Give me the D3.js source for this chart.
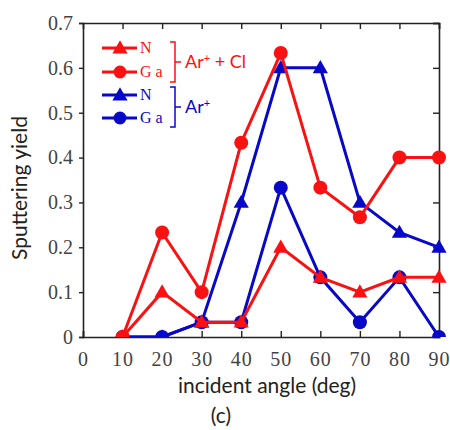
<!DOCTYPE html>
<html>
<head>
<meta charset="utf-8">
<script src="https://cdn.jsdelivr.net/npm/d3@7"></script>
<style>
  body { margin: 0; background: #fff; }
</style>
</head>
<body>
<svg id="chart"></svg>
<script>
const angles = [10, 20, 30, 40, 50, 60, 70, 80, 90];
const clN  = [0, 0.1, 0.033, 0.033, 0.2, 0.133, 0.1, 0.133, 0.133];
const clGa = [0, 0.233, 0.1, 0.433, 0.633, 0.333, 0.267, 0.4, 0.4];
const arN  = [0, 0, 0.033, 0.3, 0.6, 0.6, 0.3, 0.233, 0.2];
const arGa = [0, 0, 0.033, 0.033, 0.333, 0.133, 0.033, 0.133, 0];
const xTicks = [0, 10, 20, 30, 40, 50, 60, 70, 80, 90];
const yTicks = [0, 0.1, 0.2, 0.3, 0.4, 0.5, 0.6, 0.7];

const red = '#fa1212', blue = '#0808c8';
const serif = '"Liberation Serif", "DejaVu Serif", serif';
const sans = 'Lato, "Open Sans", sans-serif';

const series = [
    { name: 'N',  vals: arN,  color: blue, shape: 'tri' },
    { name: 'Ga', vals: arGa, color: blue, shape: 'circ' },
    { name: 'N',  vals: clN,  color: red,  shape: 'tri' },
    { name: 'Ga', vals: clGa, color: red,  shape: 'circ' }
];

const width = 450, height = 430;
const margin = { top: 23, right: 11, bottom: 93, left: 83 };
const w = width - margin.left - margin.right;
const h = height - margin.top - margin.bottom;

const svg = d3.select('#chart').attr('width', width).attr('height', height);
const chart = svg.append('g').attr('transform', `translate(${margin.left},${margin.top})`);

const x = d3.scaleLinear().domain([0, 90]).range([0, w]);
const y = d3.scaleLinear().domain([0, 0.7]).range([h, 0]);

svg.append('defs').append('clipPath').attr('id', 'clip')
    .append('rect').attr('x', -10).attr('y', -10).attr('width', w + 20).attr('height', h + 10);

// axes
const fmtY = d => d === 0 ? '0' : d3.format('.1f')(d);
chart.append('g').attr('transform', `translate(0,${h})`)
    .call(d3.axisBottom(x).tickValues(xTicks).tickSize(-6).tickPadding(15))
    .call(g => g.selectAll('.tick text').attr('dy', '0.71em').style('letter-spacing', '1px'));
chart.append('g')
    .call(d3.axisLeft(y).tickValues(yTicks).tickSize(4).tickFormat(fmtY).tickPadding(6));
chart.append('g')
    .call(d3.axisTop(x).tickValues(xTicks.slice(1)).tickSize(-6).tickFormat(''));
chart.append('g').attr('transform', `translate(${w},0)`)
    .call(d3.axisRight(y).tickValues(yTicks.slice(1)).tickSize(-6).tickFormat(''));
chart.selectAll('.domain').attr('stroke', '#222').attr('stroke-width', 1.6);
chart.selectAll('.tick line').attr('stroke', '#222').attr('stroke-width', 1.4);
chart.selectAll('.tick text')
    .style('font-family', serif).style('font-size', '20px').style('fill', '#444');

// series
const plot = chart.append('g').attr('clip-path', 'url(#clip)');
const line = d3.line().x((d, i) => x(angles[i])).y(d => y(d));
const tri = d3.symbol().type(d3.symbolTriangle).size(100);

series.forEach(s => {
    plot.append('path').datum(s.vals)
        .attr('d', line).attr('fill', 'none')
        .attr('stroke', s.color).attr('stroke-width', 3);
    const pts = plot.append('g').selectAll('.pt').data(s.vals).join('g')
        .attr('transform', (d, i) => `translate(${x(angles[i])},${y(d)})`);
    if (s.shape === 'tri') {
        pts.append('path').attr('d', tri).attr('transform', 'translate(0,1)').attr('fill', s.color);
    } else {
        pts.append('circle').attr('r', 7).attr('fill', s.color);
    }
});

// legend
const legend = svg.append('g');
const legItems = [
    { label: 'N',  color: red,  shape: 'tri',  y: 48 },
    { label: 'G a', color: red,  shape: 'circ', y: 72 },
    { label: 'N',  color: blue, shape: 'tri',  y: 95 },
    { label: 'G a', color: blue, shape: 'circ', y: 118 }
];
legItems.forEach(it => {
    legend.append('line').attr('x1', 102).attr('x2', 137).attr('y1', it.y).attr('y2', it.y)
        .attr('stroke', it.color).attr('stroke-width', 3);
    if (it.shape === 'tri') {
        legend.append('path').attr('d', tri).attr('transform', `translate(120,${it.y + 1})`).attr('fill', it.color);
    } else {
        legend.append('circle').attr('cx', 120).attr('cy', it.y).attr('r', 6.5).attr('fill', it.color);
    }
    legend.append('text').attr('x', 140).attr('y', it.y + 5)
        .style('font-family', serif).style('font-size', '16px')
        .attr('fill', it.color).text(it.label);
});

const brackets = [
    { y0: 42, y1: 82, color: red, label: 'Cl' },
    { y0: 87, y1: 127, color: blue, label: null }
];
brackets.forEach(b => {
    const mid = (b.y0 + b.y1) / 2;
    legend.append('path')
        .attr('d', `M170,${b.y0}H175V${b.y1}H170M175,${mid}H181`)
        .attr('fill', 'none').attr('stroke', b.color).attr('stroke-width', 1.5);
    const t = legend.append('text').attr('x', 185).attr('y', mid + 6)
        .style('font-family', sans).style('font-size', '18px')
        .attr('fill', b.color);
    t.append('tspan').text('Ar');
    t.append('tspan').attr('dy', -6).style('font-size', '11px').text('+');
    if (b.label) {
        t.append('tspan').attr('dy', 6).text(' + ' + b.label);
    }
});

// axis labels
const axisLabel = sel => sel.style('font-family', sans).style('font-size', '21px').attr('fill', '#222');
svg.append('text').call(axisLabel)
    .attr('transform', `translate(27,188) rotate(-90)`)
    .attr('text-anchor', 'middle').text('Sputtering yield');
svg.append('text').call(axisLabel)
    .attr('x', 267).attr('y', 393).attr('text-anchor', 'middle').text('incident angle (deg)');
svg.append('text').call(axisLabel)
    .attr('x', 221).attr('y', 423).attr('text-anchor', 'middle').text('(c)');
</script>
</body>
</html>
